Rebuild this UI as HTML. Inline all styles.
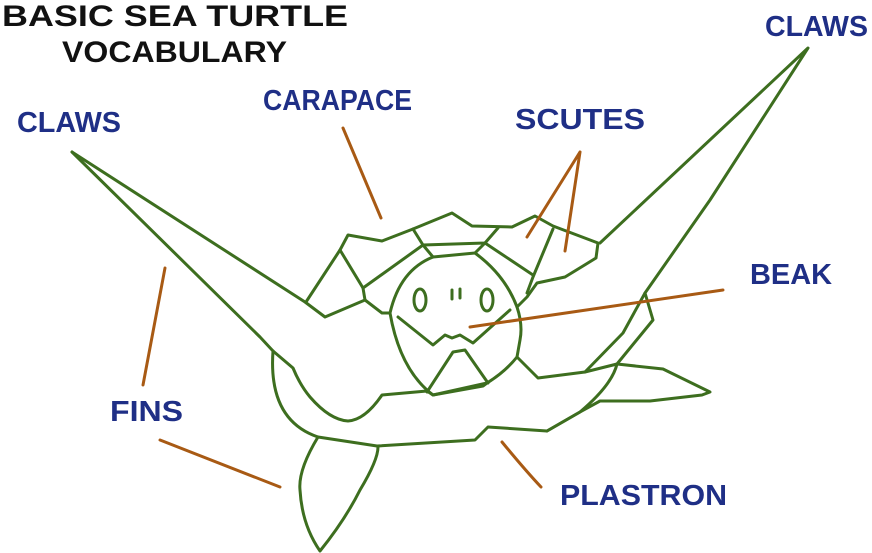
<!DOCTYPE html>
<html><head><meta charset="utf-8"><style>
html,body{margin:0;padding:0;background:#fff;width:872px;height:553px;overflow:hidden}
svg{display:block}
text{font-family:"Liberation Sans",sans-serif;font-weight:bold}
.t{fill:#111}
.l{fill:#1f2f86}
.g{fill:none;stroke:#3d6e1f;stroke-width:3;stroke-linejoin:round;stroke-linecap:round}
.b{fill:none;stroke:#a85a14;stroke-width:3;stroke-linecap:round}
</style></head><body>
<svg width="872" height="553" viewBox="0 0 872 553" xmlns="http://www.w3.org/2000/svg">
<text class="t" x="2" y="26" font-size="30" textLength="346" lengthAdjust="spacingAndGlyphs">BASIC SEA TURTLE</text>
<text class="t" x="62" y="62" font-size="30" textLength="225" lengthAdjust="spacingAndGlyphs">VOCABULARY</text>
<text class="l" x="17" y="132" font-size="29" textLength="104" lengthAdjust="spacingAndGlyphs">CLAWS</text>
<text class="l" x="263" y="110" font-size="29" textLength="149" lengthAdjust="spacingAndGlyphs">CARAPACE</text>
<text class="l" x="515" y="129" font-size="29" textLength="130" lengthAdjust="spacingAndGlyphs">SCUTES</text>
<text class="l" x="765" y="36" font-size="29" textLength="103" lengthAdjust="spacingAndGlyphs">CLAWS</text>
<text class="l" x="750" y="284" font-size="29" textLength="82" lengthAdjust="spacingAndGlyphs">BEAK</text>
<text class="l" x="110" y="421" font-size="29" textLength="73" lengthAdjust="spacingAndGlyphs">FINS</text>
<text class="l" x="560" y="505" font-size="29" textLength="167" lengthAdjust="spacingAndGlyphs">PLASTRON</text>

<!-- left arm -->
<path class="g" d="M72,152 L305,302 L325,317 L365,300 L382,313 L390,313"/>
<path class="g" d="M72,152 L260,337 L273,351 L293,368 Q300,385 310,397 Q330,420 348,421 Q365,420 382,395 L427,391 L433,395 L483,386 L487,383"/>
<!-- front flipper lower/plastron -->
<path class="g" d="M273,351 Q268,420 318,437 L377,446 L475,440 L488,427 L547,431 L580,412 L600,401 L650,401 L702,395 L710,392 L663,369 L617,364 L585,372 L538,378 L517,357"/>
<path class="g" d="M547,431 L580,412 Q612,385 617,364 L653,320 L645,293 L710,200 L808,48 L600,243"/>
<path class="g" d="M645,293 L623,333 L585,372"/>
<!-- rear flipper -->
<path class="g" d="M318,437 Q298,470 300,490 Q302,525 320,551 Q345,520 360,490 Q378,460 378,447"/>
<!-- shell -->
<path class="g" d="M306,302 L340,250 L348,235 L382,241 L413,229 L452,213 L472,226 L512,227 L535,216 L553,226 L598,243 L596,258 L583,266 L565,277 L537,283 L527,297 L517,307"/>
<path class="g" d="M340,250 L363,288 L365,300"/>
<path class="g" d="M363,288 L423,245 L485,243 L498,228"/>
<path class="g" d="M413,229 L423,245 L433,257"/>
<path class="g" d="M485,243 L475,253"/>
<path class="g" d="M485,243 L533,275"/>
<path class="g" d="M553,229 L533,277 L527,293"/>
<!-- head -->
<path class="g" d="M390,313 Q400,270 433,257 L475,253 Q505,275 517,307 Q523,325 520,340 L517,357 Q505,372 487,383 L433,395 Q400,370 390,313"/>
<path class="g" d="M398,317 L433,345 L445,335 L452,338 L460,335 L473,343 L510,310"/>
<path class="g" d="M427,392 L453,352 L465,350 L488,383"/>
<ellipse class="g" cx="420" cy="300" rx="6" ry="11"/>
<ellipse class="g" cx="487" cy="300" rx="6" ry="11"/>
<path class="g" d="M452,290 L452,299 M460,289 L460,298"/>
<!-- brown pointers -->
<path class="b" d="M343,128 L381,218"/>
<path class="b" d="M580,152 L527,237 M580,152 L565,251"/>
<path class="b" d="M470,327 L723,290"/>
<path class="b" d="M165,268 L143,385"/>
<path class="b" d="M160,440 L280,487"/>
<path class="b" d="M502,442 Q525,470 541,487"/>
</svg>
</body></html>
